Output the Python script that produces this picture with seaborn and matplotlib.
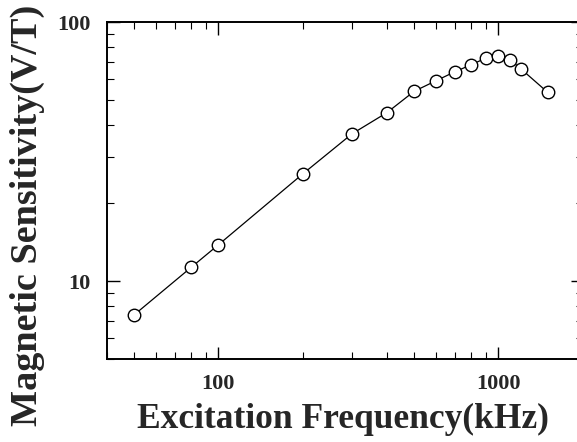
import pandas as pd
import matplotlib.pyplot as plt
import matplotlib.ticker as mticker
import seaborn as sns

# Data
freq_khz = [50, 80, 100, 200, 300, 400, 500, 600, 700, 800, 900, 1000, 1100, 1200, 1500]
sensitivity = [7.4, 11.3, 13.8, 25.9, 37.0, 44.7, 54.0, 59.4, 64.3, 68.4, 72.5, 74.0, 71.5, 66.1, 53.5]
x_ticks = [100, 1000]
y_ticks = [10, 100]

df = pd.DataFrame({'freq': freq_khz, 'sens': sensitivity})

sns.set_style('ticks')
plt.rcParams['font.family'] = ['Liberation Serif', 'DejaVu Serif']
plt.rcParams['font.weight'] = 'bold'

fig = plt.figure(figsize=(5.77, 4.42), dpi=100)
ax = fig.add_axes([0.1854, 0.1878, 0.8245, 0.7624])

sns.lineplot(data=df, x='freq', y='sens', ax=ax, color='black', linewidth=0.9,
             marker='o', markersize=9, markerfacecolor='white',
             markeredgecolor='black', markeredgewidth=1.0)

ax.set_xscale('log')
ax.set_yscale('log')
ax.set_xlim(40, 2000)
ax.set_ylim(5, 100)

ax.xaxis.set_major_locator(mticker.FixedLocator(x_ticks))
ax.yaxis.set_major_locator(mticker.FixedLocator(y_ticks))
ax.xaxis.set_major_formatter(mticker.FixedFormatter([str(t) for t in x_ticks]))
ax.yaxis.set_major_formatter(mticker.FixedFormatter([str(t) for t in y_ticks]))
ax.xaxis.set_minor_locator(mticker.LogLocator(base=10, subs=range(2, 10), numticks=20))
ax.yaxis.set_minor_locator(mticker.LogLocator(base=10, subs=range(2, 10), numticks=20))
ax.xaxis.set_minor_formatter(mticker.NullFormatter())
ax.yaxis.set_minor_formatter(mticker.NullFormatter())

ax.tick_params(which='both', direction='in', top=True, right=True, color='black')
ax.tick_params(which='major', length=9, width=1.0, labelsize=16)
ax.tick_params(axis='x', which='major', pad=11)
ax.tick_params(axis='y', which='major', pad=12)
ax.tick_params(which='minor', length=5, width=0.8)
for lbl in ax.get_xticklabels() + ax.get_yticklabels():
    lbl.set_fontweight('bold')

for sp in ax.spines.values():
    sp.set_linewidth(1.4)
    sp.set_color('black')

ax.set_xlabel('Excitation Frequency(kHz)', fontsize=25.5, fontweight='bold')
ax.set_ylabel('Magnetic Sensitivity(V/T)', fontsize=27.5, fontweight='bold')
ax.xaxis.set_label_coords(0.497, -0.13)
ax.yaxis.set_label_coords(-0.13, 0.427)

fig.savefig('out.png', dpi=100)
